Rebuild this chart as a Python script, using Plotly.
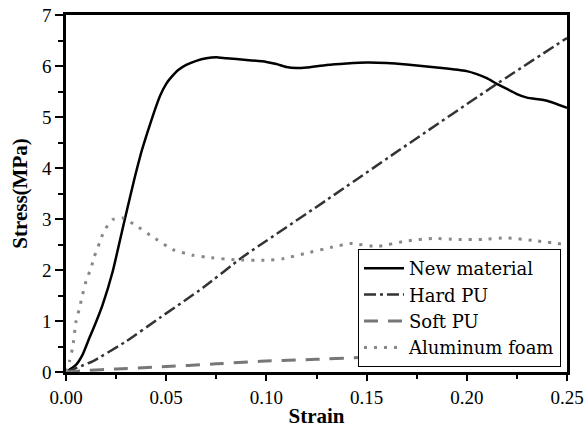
import plotly.graph_objects as go

# ---- data ----
new_x = [0, 0.005, 0.0083, 0.0117, 0.015, 0.0183, 0.0233, 0.0292, 0.0342, 0.0375, 0.0408, 0.044,
         0.047, 0.05, 0.053, 0.056, 0.06, 0.065, 0.07, 0.075, 0.08, 0.09, 0.1, 0.105, 0.11,
         0.115, 0.12, 0.13, 0.14, 0.15, 0.16, 0.17, 0.18, 0.19, 0.2, 0.205, 0.21, 0.215,
         0.22, 0.225, 0.23, 0.24, 0.25]
new_y = [0, 0.14, 0.34, 0.67, 0.98, 1.32, 1.97, 2.97, 3.8, 4.3, 4.72, 5.1,
         5.42, 5.65, 5.8, 5.92, 6.02, 6.1, 6.15, 6.17, 6.15, 6.12, 6.08, 6.04, 5.98,
         5.96, 5.97, 6.02, 6.05, 6.07, 6.06, 6.03, 5.99, 5.95, 5.9, 5.84, 5.76, 5.65,
         5.55, 5.45, 5.38, 5.32, 5.18]

hard_x = [0, 0.0133, 0.03, 0.0467, 0.0683, 0.088, 0.13, 0.17, 0.215, 0.25]
hard_y = [0, 0.21, 0.6, 1.06, 1.65, 2.25, 3.37, 4.45, 5.65, 6.55]

soft_x = [0, 0.01, 0.025, 0.047, 0.075, 0.097, 0.125, 0.144, 0.175, 0.2, 0.225, 0.25]
soft_y = [0, 0.03, 0.06, 0.10, 0.16, 0.21, 0.25, 0.28, 0.35, 0.42, 0.48, 0.56]

al_x = [0, 0.0017, 0.0033, 0.005, 0.0067, 0.0083, 0.01, 0.0125, 0.0142, 0.0167, 0.019,
        0.0233, 0.0283, 0.035, 0.044, 0.0533, 0.0633, 0.07, 0.085, 0.1, 0.108, 0.12,
        0.133, 0.142, 0.155, 0.17, 0.183, 0.195, 0.208, 0.22, 0.233, 0.249]
al_y = [0, 0.21, 0.47, 0.99, 1.25, 1.52, 1.78, 2.04, 2.27, 2.53, 2.77,
        2.99, 3.02, 2.87, 2.63, 2.4, 2.29, 2.25, 2.2, 2.19, 2.22, 2.33,
        2.45, 2.52, 2.46, 2.57, 2.62, 2.6, 2.6, 2.63, 2.58, 2.5]

names = ["New material", "Hard PU", "Soft PU", "Aluminum foam"]

FONT = "Liberation Serif"
LEG_FONT = "DejaVu Serif"

fig = go.Figure()
fig.add_trace(go.Scatter(x=new_x, y=new_y, mode="lines", name=names[0],
                         line=dict(color="black", width=2.5, shape="spline", smoothing=0.4)))
fig.add_trace(go.Scatter(x=hard_x, y=hard_y, mode="lines", name=names[1],
                         line=dict(color="#333333", width=2.5, dash="12px,4px,3px,4px",
                                   shape="spline", smoothing=0.4)))
fig.add_trace(go.Scatter(x=soft_x, y=soft_y, mode="lines", name=names[2],
                         line=dict(color="#777777", width=3, dash="14px,10px",
                                   shape="spline", smoothing=0.4)))
fig.add_trace(go.Scatter(x=al_x, y=al_y, mode="lines", name=names[3],
                         line=dict(color="#888888", width=3, dash="3px,7px",
                                   shape="spline", smoothing=0.4)))

axis_common = dict(
    showline=True, linecolor="black", linewidth=2.5, mirror=True,
    ticks="outside", tickwidth=2, tickcolor="black",
    showgrid=False, zeroline=False, automargin=False,
    tickfont=dict(family=FONT, size=19, color="black"),
)

fig.update_xaxes(
    range=[0, 0.25], tick0=0, dtick=0.05, tickformat=".2f", ticklen=6,
    minor=dict(ticks="outside", ticklen=4, tickwidth=2, tickcolor="black", dtick=0.025),
    title=dict(text="<b>Strain</b>", font=dict(family=FONT, size=21, color="black"), standoff=2),
    **axis_common,
)
fig.update_yaxes(
    range=[0, 7], tick0=0, dtick=1, ticklen=8,
    minor=dict(ticks="outside", ticklen=5, tickwidth=2, tickcolor="black", dtick=0.5),
    title=dict(text="<b>Stress(MPa)</b>", font=dict(family=FONT, size=21, color="black"), standoff=9),
    **axis_common,
)

fig.update_layout(
    width=586, height=430,
    margin=dict(l=66, r=19, t=15, b=58),
    paper_bgcolor="white", plot_bgcolor="white",
    font=dict(family=FONT, color="black"),
    showlegend=True,
    legend=dict(
        x=0.988, y=0.014, xanchor="right", yanchor="bottom",
        bgcolor="white", bordercolor="black", borderwidth=1,
        font=dict(family=LEG_FONT, size=18, color="black"),
        tracegroupgap=0, itemwidth=40,
    ),
)

fig.write_html("out.html")
